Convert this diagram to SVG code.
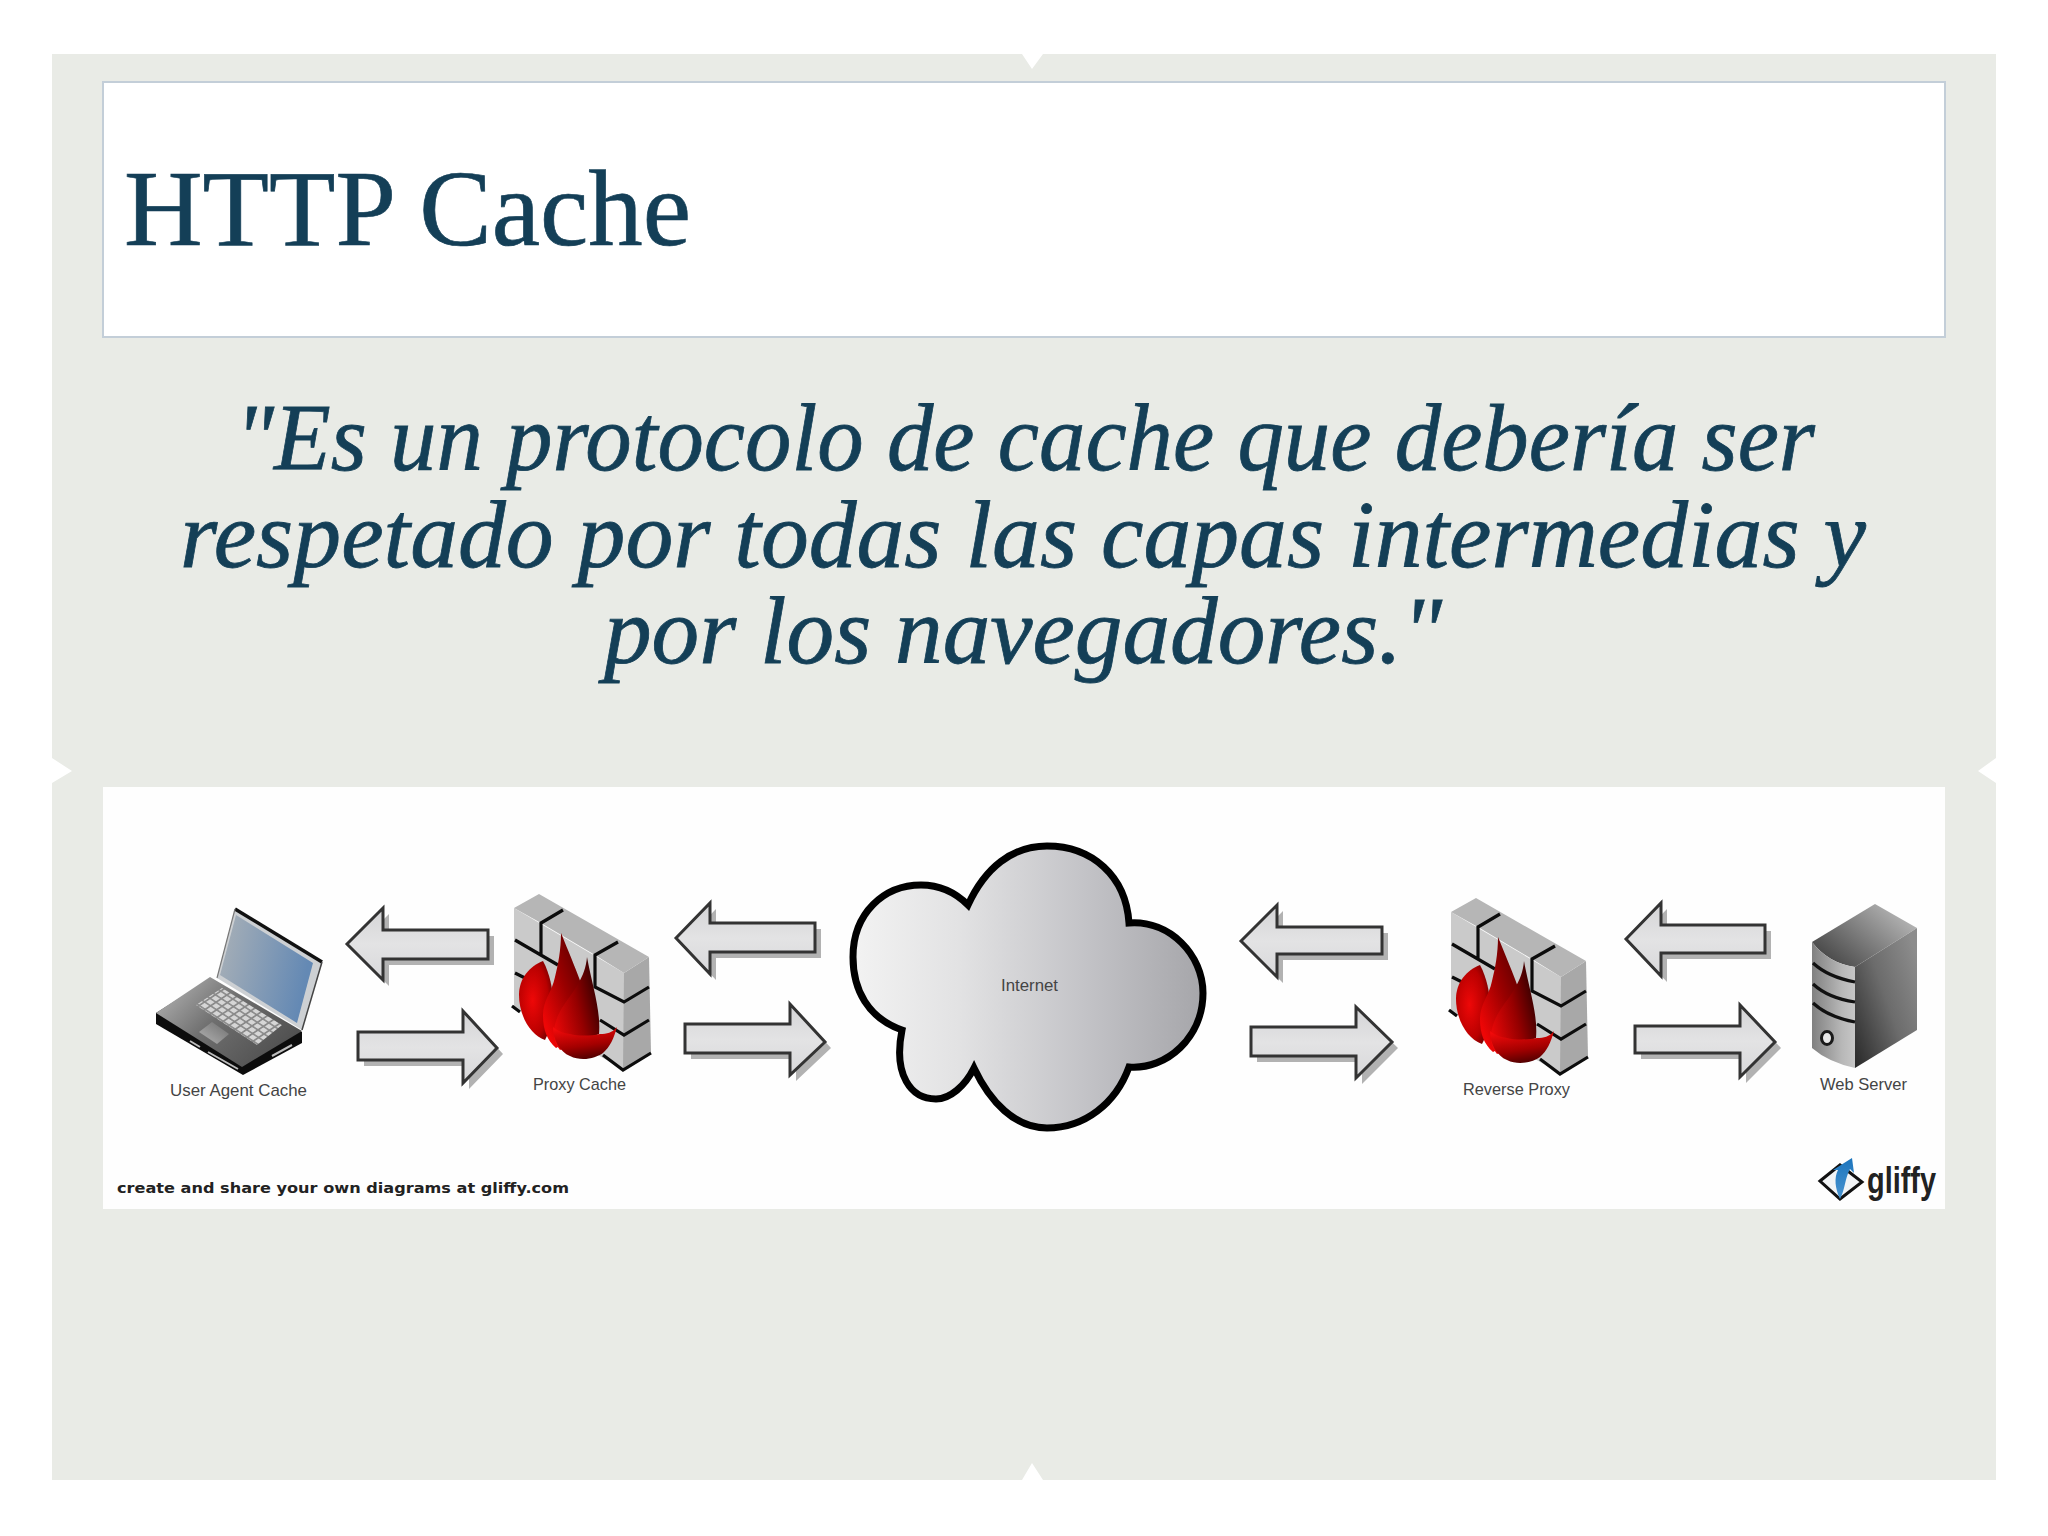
<svg xmlns="http://www.w3.org/2000/svg" xmlns:xlink="http://www.w3.org/1999/xlink" width="2048" height="1536" viewBox="0 0 2048 1536">
<style>
.title{font-family:"Liberation Serif",serif;fill:#143f57;stroke:#143f57;stroke-width:.7}
.quote{font-family:"Liberation Serif",serif;font-style:italic;fill:#143f57;stroke:#143f57;stroke-width:.8;font-size:96px}
.lbl{font-family:"Liberation Sans",sans-serif;fill:#444;font-size:17px}
.arrow{fill:url(#arrowFill);stroke:#333;stroke-width:3;stroke-linejoin:miter}
.shadow{fill:#b2b2b2}
.mortar{fill:none;stroke:#0c0c0c;stroke-width:3.2;stroke-linejoin:miter}
.srv{fill:none;stroke:#111;stroke-width:3.2}
</style>
<defs>
<linearGradient id="arrowFill" x1="0" y1="0" x2="0" y2="1"><stop offset="0" stop-color="#d4d4d6"/><stop offset="0.5" stop-color="#e3e3e4"/><stop offset="1" stop-color="#d8d8da"/></linearGradient>
<linearGradient id="cloudFill" gradientUnits="userSpaceOnUse" x1="856" y1="0" x2="1202" y2="0"><stop offset="0" stop-color="#f2f2f2"/><stop offset="0.3" stop-color="#e2e2e3"/><stop offset="0.65" stop-color="#c4c4c8"/><stop offset="1" stop-color="#a6a6aa"/></linearGradient>
<linearGradient id="screenFill" x1="0" y1="0" x2="1" y2="0.25"><stop offset="0" stop-color="#aab1b7"/><stop offset="1" stop-color="#6489b4"/></linearGradient>
<linearGradient id="baseFill" x1="0" y1="0" x2="1" y2="0.6"><stop offset="0" stop-color="#bdbdbd"/><stop offset="0.5" stop-color="#6f6f6f"/><stop offset="1" stop-color="#505050"/></linearGradient>
<linearGradient id="padFill" x1="0" y1="1" x2="1" y2="0"><stop offset="0" stop-color="#b4b4b4"/><stop offset="1" stop-color="#6e6e6e"/></linearGradient>
<radialGradient id="flameA" cx="0.4" cy="0.5" r="0.65"><stop offset="0" stop-color="#ee0808"/><stop offset="0.7" stop-color="#b80000"/><stop offset="1" stop-color="#6e0000"/></radialGradient>
<linearGradient id="flameM" x1="0.1" y1="0.85" x2="0.8" y2="0.2"><stop offset="0" stop-color="#ee0606"/><stop offset="0.55" stop-color="#9a0000"/><stop offset="1" stop-color="#5e0000"/></linearGradient>
<linearGradient id="flameB" x1="0" y1="0.85" x2="1" y2="0.35"><stop offset="0" stop-color="#f00808"/><stop offset="0.55" stop-color="#950000"/><stop offset="1" stop-color="#300000"/></linearGradient>
<linearGradient id="flameC" x1="0.25" y1="0" x2="0.55" y2="1"><stop offset="0" stop-color="#f20a0a"/><stop offset="0.6" stop-color="#a30000"/><stop offset="1" stop-color="#500000"/></linearGradient>
<linearGradient id="srvLeft" x1="0" y1="0" x2="1" y2="0"><stop offset="0" stop-color="#808080"/><stop offset="0.7" stop-color="#b8b8b8"/><stop offset="1" stop-color="#c6c6c6"/></linearGradient>
<linearGradient id="srvRight" x1="0" y1="1" x2="1" y2="0.2"><stop offset="0" stop-color="#282828"/><stop offset="0.55" stop-color="#6c6c6c"/><stop offset="1" stop-color="#8c8c8c"/></linearGradient>
<linearGradient id="srvTop" x1="0" y1="0.9" x2="1" y2="0.2"><stop offset="0" stop-color="#3c3c3c"/><stop offset="1" stop-color="#bcbcbc"/></linearGradient>
<linearGradient id="logoBlue" x1="0" y1="0" x2="0" y2="1"><stop offset="0" stop-color="#1c75bd"/><stop offset="1" stop-color="#4a94d0"/></linearGradient>
<pattern id="keys" width="6" height="6" patternUnits="userSpaceOnUse" patternTransform="matrix(1 .66 -.9 .6 0 0)"><rect width="6" height="6" fill="#8a8a8a"/><rect x="0.8" y="0.8" width="4.4" height="4.4" fill="#d6d6d6"/></pattern>
<g id="fw">
<polygon points="514,908 624,973 624,1070 514,1007" fill="#cacaca"/>
<polygon points="624,973 649,957 651,1053 623,1070" fill="#a8a8a8"/>
<polygon points="514,908 539,894 649,957 624,973 595,955 541,923" fill="#b6b6b6"/>
<path class="mortar" d="M563 910L541 923V955M515 940L558 965M618 942L595 955V987L624 1002L649 987M515 973L525 978M600 1020L624 1035L649 1020M603 1055L623 1070L651 1053M512 1006L520 1012"/>
<path d="M543 961C530 966 519 978 519 995C519 1015 530 1035 545 1040C556 1020 556 985 543 961Z" fill="url(#flameA)"/>
<path d="M561 933C561 950 558 965 555 977C552 992 543 1000 543 1015C543 1030 547 1040 556 1048L590 1030C592 1005 578 975 561 933Z" fill="url(#flameM)"/>
<path d="M587 957C586 968 583 975 578 984C572 995 562 1005 557 1018C552 1032 553 1042 560 1050L599 1034C601 1010 592 985 587 957Z" fill="url(#flameB)"/>
<path d="M617 1027C612 1033 607 1034 600 1034C590 1036 578 1036 570 1034C562 1033 556 1030 553 1027C553 1040 560 1052 570 1056C582 1062 596 1058 603 1053C610 1047 614 1038 617 1027Z" fill="url(#flameC)"/>
</g>
</defs>

<rect width="2048" height="1536" fill="#ffffff"/>
<path id="panel" fill="#e9ebe6" d="M52 54H1022L1032 69L1043 54H1996V758L1978 771L1996 783V1480H1043L1032 1463L1022 1480H52V783L72 771L52 758Z"/>

<g id="title-box">
<rect x="103" y="82" width="1842" height="255" fill="#ffffff" stroke="#c3ced8" stroke-width="2"/>
<text class="title" x="124" y="245" font-size="107" textLength="567" lengthAdjust="spacingAndGlyphs">HTTP Cache</text>
</g>

<g id="quote">
<text class="quote"><tspan x="235" y="470" textLength="1580" lengthAdjust="spacingAndGlyphs">"Es un protocolo de cache que debería ser</tspan><tspan x="180" y="567" textLength="1686" lengthAdjust="spacingAndGlyphs">respetado por todas las capas intermedias y</tspan><tspan x="604" y="663" textLength="838" lengthAdjust="spacingAndGlyphs">por los navegadores."</tspan></text>
</g>

<rect id="diagram-bg" x="103" y="787" width="1842" height="422" fill="#fefefe"/>

<g id="connectors">
<g id="arrow-l1"><polygon class="shadow" points="353,950 389,914 389,936 494,936 494,965 389,965 389,986"/><polygon class="arrow" points="347,944 383,908 383,930 488,930 488,959 383,959 383,980"/></g>
<g id="arrow-r1"><polygon class="shadow" points="364,1038 469,1038 469,1017 503,1054 469,1089 469,1066 364,1066"/><polygon class="arrow" points="358,1032 463,1032 463,1011 497,1048 463,1083 463,1060 358,1060"/></g>
<g id="arrow-l2"><polygon class="shadow" points="682,944 716,909 716,929 821,929 821,958 716,958 716,980"/><polygon class="arrow" points="676,938 710,903 710,923 815,923 815,952 710,952 710,974"/></g>
<g id="arrow-r2"><polygon class="shadow" points="691,1030 796,1030 796,1010 831,1048 796,1081 796,1059 691,1059"/><polygon class="arrow" points="685,1024 790,1024 790,1004 825,1042 790,1075 790,1053 685,1053"/></g>
<g id="arrow-l3"><polygon class="shadow" points="1247,947 1283,911 1283,933 1388,933 1388,960 1283,960 1283,983"/><polygon class="arrow" points="1241,941 1277,905 1277,927 1382,927 1382,954 1277,954 1277,977"/></g>
<g id="arrow-r3"><polygon class="shadow" points="1257,1033 1362,1033 1362,1013 1398,1048 1362,1084 1362,1062 1257,1062"/><polygon class="arrow" points="1251,1027 1356,1027 1356,1007 1392,1042 1356,1078 1356,1056 1251,1056"/></g>
<g id="arrow-l4"><polygon class="shadow" points="1632,945 1667,909 1667,931 1771,931 1771,959 1667,959 1667,982"/><polygon class="arrow" points="1626,939 1661,903 1661,925 1765,925 1765,953 1661,953 1661,976"/></g>
<g id="arrow-r4"><polygon class="shadow" points="1641,1032 1746,1032 1746,1011 1781,1048 1746,1083 1746,1059 1641,1059"/><polygon class="arrow" points="1635,1026 1740,1026 1740,1005 1775,1042 1740,1077 1740,1053 1635,1053"/></g>
</g>

<g id="user-agent-cache">
<polygon points="156,1013 210,979 302,1032 302,1043 243,1075 156,1024" fill="#0c0c0c"/>
<polygon points="156,1013 210,977 302,1031 242,1067" fill="url(#baseFill)"/>
<path d="M190 1041L200 1047M208 1052L238 1069M272 1056L292 1045" stroke="#bdbdbd" stroke-width="2"/>
<polygon points="222,988 282,1025 257,1045 196,1005" fill="url(#keys)"/>
<polygon points="212,1022 229,1034 217,1044 199,1032" fill="url(#padFill)"/>
<polygon points="235,909 322,962 302,1030 217,978" fill="#cdd0d3"/>
<path d="M235 909L322 962" stroke="#111" stroke-width="3.5"/>
<path d="M322 962L302 1030" stroke="#444" stroke-width="1.5"/>
<path d="M235 909L217 978" stroke="#777" stroke-width="1.2"/>
<polygon points="236,915 313,963 297,1023 220,975" fill="url(#screenFill)"/>
</g>

<g id="proxy-cache">
<use xlink:href="#fw" href="#fw"/>
</g>

<g id="internet">
<path fill="url(#cloudFill)" stroke="#000" stroke-width="7" stroke-linejoin="miter" d="M968 905C985 868 1012 846 1047 846C1092 846 1126 876 1129 923C1170 920 1203 955 1203 993C1203 1037 1167 1070 1129 1067C1116 1103 1085 1128 1047 1128C1015 1128 990 1102 974 1068C965 1086 950 1099 936 1099C911 1099 893 1075 902 1030C868 1018 853 990 853 957C853 913 884 885 921 885C940 885 955 892 968 905Z"/>
<text class="lbl" x="1001" y="991" textLength="57" lengthAdjust="spacingAndGlyphs">Internet</text>
</g>

<g id="reverse-proxy">
<use xlink:href="#fw" href="#fw" transform="translate(937 4)"/>
</g>

<g id="web-server">
<path d="M1812 942L1875 904L1917 928L1855 967Q1828 963 1812 942Z" fill="url(#srvTop)"/>
<path d="M1812 942Q1828 963 1855 967V1068Q1828 1062 1812 1048Z" fill="url(#srvLeft)"/>
<polygon points="1855,967 1917,928 1917,1030 1855,1068" fill="url(#srvRight)"/>
<path class="srv" d="M1813 963Q1828 977 1855 982M1813 984Q1828 998 1855 1002M1813 1003Q1828 1017 1855 1022"/>
<ellipse cx="1827" cy="1038" rx="5.5" ry="6.5" fill="#e8e8e8" stroke="#1a1a1a" stroke-width="3"/>
</g>

<g id="labels">
<text class="lbl" x="170" y="1096" textLength="137" lengthAdjust="spacingAndGlyphs">User Agent Cache</text>
<text class="lbl" x="533" y="1090" textLength="93" lengthAdjust="spacingAndGlyphs">Proxy Cache</text>
<text class="lbl" x="1463" y="1095" textLength="107" lengthAdjust="spacingAndGlyphs">Reverse Proxy</text>
<text class="lbl" x="1820" y="1090" textLength="87" lengthAdjust="spacingAndGlyphs">Web Server</text>
<text x="117" y="1193" font-family="'DejaVu Sans',sans-serif" font-weight="700" font-size="14" fill="#222" textLength="452" lengthAdjust="spacingAndGlyphs">create and share your own diagrams at gliffy.com</text>
</g>

<g id="gliffy-logo">
<polygon points="1820,1181 1840,1165 1862,1182 1840,1199" fill="#f2f4f6" stroke="#111" stroke-width="3"/>
<path d="M1840 1199C1835 1188 1834 1178 1838 1170L1833 1170L1852 1158L1854 1173L1850 1169C1845 1178 1845 1190 1840 1199Z" fill="url(#logoBlue)"/>
<text x="1867" y="1193" font-family="'Liberation Sans',sans-serif" font-weight="700" font-size="36" fill="#222" textLength="69" lengthAdjust="spacingAndGlyphs">gliffy</text>
</g>
</svg>
